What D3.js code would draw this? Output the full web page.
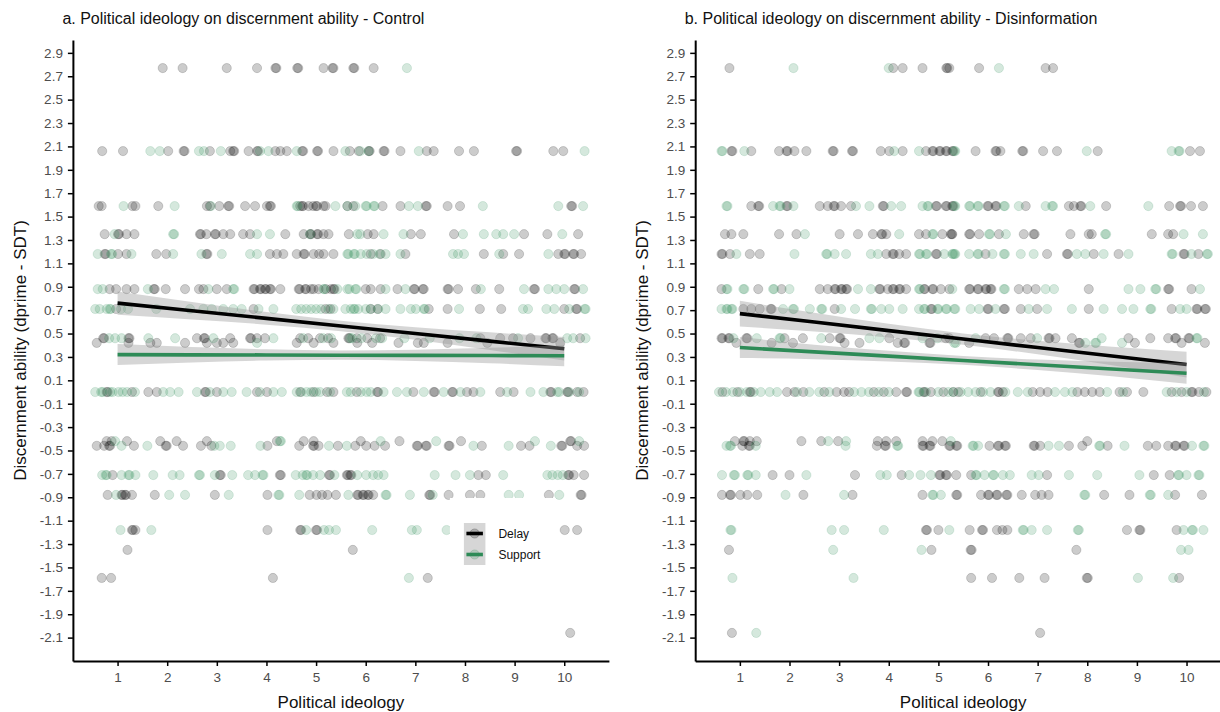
<!DOCTYPE html>
<html>
<head>
<meta charset="utf-8">
<script src="https://cdn.jsdelivr.net/npm/d3@7"></script>
<style>
  body { margin: 0; background: #fff; }
  svg { display: block; font-family: "Liberation Sans", Arial, sans-serif; }
</style>
</head>
<body>
<svg id="chart" width="1220" height="712"></svg>
<script>
// Tick labels and titles
const yTickValues = [2.9, 2.7, 2.5, 2.3, 2.1, 1.9, 1.7, 1.5, 1.3, 1.1, 0.9, 0.7, 0.5, 0.3, 0.1,
  -0.1, -0.3, -0.5, -0.7, -0.9, -1.1, -1.3, -1.5, -1.7, -1.9, -2.1];
const xTickValues = [1, 2, 3, 4, 5, 6, 7, 8, 9, 10];
const panelTitles = [
  'a. Political ideology on discernment ability - Control',
  'b. Political ideology on discernment ability - Disinformation'
];
const groupNames = ['Delay', 'Support'];

// Jittered points: [dprime, [political ideology values]]
const controlDelay = [
  [2.77, [1.91, 2.31, 3.20, 3.81, 4.18, 4.20, 4.62, 4.64, 5.15, 5.33, 5.35, 5.75, 5.77, 6.16]],
  [2.06, [0.69, 1.11, 2.02, 2.33, 2.35, 2.86, 3.27, 3.33, 3.35, 3.64, 3.81, 3.83, 4.18, 4.28, 4.41, 4.72, 4.74, 5.02, 5.04, 5.35, 5.68, 5.86, 6.06, 6.08, 6.36, 6.38, 6.70, 7.23, 7.37, 7.88, 8.18, 9.03, 9.05, 9.78, 9.98]],
  [1.59, [0.62, 0.68, 1.30, 1.36, 1.82, 2.80, 2.86, 3.05, 3.23, 3.25, 3.57, 3.77, 4.01, 4.07, 4.09, 4.68, 4.72, 4.74, 4.85, 4.94, 5.00, 5.02, 5.15, 5.19, 5.63, 5.75, 6.34, 6.70, 7.21, 7.23, 7.65, 7.90, 10.14, 10.16]],
  [1.35, [0.74, 1.01, 1.03, 1.18, 1.34, 2.66, 2.68, 2.79, 2.96, 2.98, 3.13, 3.27, 3.53, 3.67, 4.38, 4.75, 4.88, 4.90, 5.02, 5.04, 5.15, 5.25, 5.66, 6.04, 6.16, 6.91, 7.11, 7.78, 9.19, 9.66, 10.28]],
  [1.18, [0.74, 0.76, 1.01, 1.18, 1.78, 1.98, 2.79, 2.81, 4.07, 4.21, 4.34, 4.61, 4.75, 4.77, 4.95, 5.06, 5.15, 5.35, 6.10, 6.30, 6.80, 8.38, 8.77, 9.09, 9.88, 10.00, 10.02, 10.18, 10.20, 10.34]],
  [0.88, [0.84, 0.97, 1.18, 1.34, 1.73, 1.75, 1.97, 2.36, 2.64, 2.73, 3.00, 3.20, 3.74, 3.76, 3.87, 3.89, 3.97, 3.99, 4.07, 4.09, 4.28, 4.65, 4.67, 4.78, 4.80, 4.90, 4.95, 5.05, 5.20, 5.30, 5.35, 5.37, 6.00, 6.10, 6.30, 6.64, 6.97, 6.99, 7.15, 7.17, 7.65, 7.67, 7.86, 8.22, 8.69, 9.39, 9.41, 10.20, 10.22]],
  [0.71, [0.97, 3.74, 5.19, 5.29, 6.10, 6.24, 7.27, 7.65, 8.30, 8.73, 10.00, 10.24, 10.26]],
  [0.46, [0.71, 0.73, 1.22, 1.24, 2.60, 2.74, 2.76, 3.27, 3.67, 3.69, 3.81, 3.97, 4.68, 4.84, 5.08, 5.24, 5.65, 5.67, 5.82, 6.03, 6.29, 8.31, 8.71, 8.97, 9.32, 9.62, 9.64, 9.76, 9.78, 10.32]],
  [0.42, [0.58, 1.22, 1.66, 1.79, 2.36, 2.80, 3.00, 3.13, 3.33, 4.61, 4.95, 5.35, 5.83, 6.13, 6.66, 7.05, 7.17, 7.65, 8.45, 9.92]],
  [0, [0.78, 0.80, 1.29, 1.62, 1.79, 2.76, 2.78, 3.00, 3.81, 4.01, 4.68, 4.95, 5.22, 5.35, 5.82, 6.23, 6.25, 6.96, 7.37, 7.39, 7.74, 7.76, 8.04, 8.17, 8.71, 8.98, 9.72, 9.74, 10.06, 10.08, 10.26, 10.39]],
  [-0.42, [0.78, 0.88, 1.19, 1.86, 2.19, 2.80, 4.21, 4.75, 4.95, 5.90, 6.68, 7.92, 10.12, 10.14]],
  [-0.46, [0.58, 0.73, 0.83, 0.85, 1.33, 1.97, 1.99, 2.32, 2.68, 2.89, 4.02, 4.66, 4.94, 4.96, 5.05, 5.44, 5.79, 6.01, 6.18, 6.39, 7.03, 7.05, 7.21, 7.23, 7.67, 7.69, 8.34, 9.13, 9.30, 9.94, 9.96, 10.26, 10.40]],
  [-0.71, [0.90, 3.06, 3.08, 4.27, 4.29, 5.26, 5.28, 5.62, 5.64, 5.69, 5.71, 8.27, 8.42, 10.08, 10.10, 10.19, 10.40]],
  [-0.88, [0.80, 1.08, 1.10, 1.15, 1.17, 1.29, 1.75, 2.96, 4.02, 4.87, 5.01, 5.12, 5.23, 5.40, 5.83, 5.85, 5.94, 5.96, 6.04, 6.06, 6.15, 7.28, 7.30, 7.67, 8.10, 8.31, 9.69, 10.33, 10.35]],
  [-1.18, [1.29, 1.31, 1.36, 4.02, 4.68, 4.70, 5.00, 5.02, 10.01, 10.26]],
  [-1.35, [1.20, 5.74]],
  [-1.59, [0.68, 0.87, 4.13, 7.25]],
  [-2.06, [10.12]]
];

const controlSupport = [
  [2.77, [6.83]],
  [2.06, [1.66, 1.85, 2.64, 2.74, 3.08, 3.87, 4.04, 4.61, 5.59, 5.89, 6.06, 7.07, 10.41]],
  [1.59, [1.12, 2.15, 2.88, 4.61, 4.63, 5.39, 5.63, 5.79, 6.00, 6.02, 6.16, 6.18, 6.87, 7.05, 8.36, 9.88, 10.38]],
  [1.35, [0.94, 2.12, 2.14, 3.81, 4.07, 4.88, 5.83, 5.89, 6.36, 6.76, 7.96, 8.38, 8.63, 8.77, 8.99, 9.96]],
  [1.18, [0.60, 0.87, 0.89, 1.28, 2.12, 2.69, 3.10, 3.67, 3.81, 5.63, 5.65, 5.76, 5.78, 5.90, 6.02, 6.15, 6.28, 6.40, 6.70, 7.76, 7.86, 7.98, 8.69, 9.68]],
  [0.88, [0.60, 0.70, 1.61, 2.83, 3.33, 3.35, 5.15, 5.17, 5.43, 5.63, 5.67, 5.79, 5.81, 6.40, 6.80, 8.32, 9.19, 9.68, 9.84, 10.00, 10.38]],
  [0.71, [0.55, 0.64, 0.78, 0.84, 0.86, 1.07, 1.21, 1.78, 2.46, 2.73, 2.90, 3.13, 3.33, 3.50, 3.84, 4.14, 4.60, 4.70, 4.80, 4.90, 5.00, 5.10, 5.25, 5.35, 5.59, 5.70, 5.76, 5.78, 5.85, 6.00, 6.10, 6.25, 6.40, 6.70, 6.91, 7.01, 7.17, 7.19, 7.88, 9.17, 9.27, 9.64, 9.80, 10.10, 10.41, 10.43]],
  [0.46, [0.83, 0.95, 1.08, 1.62, 2.16, 2.93, 4.14, 4.74, 5.14, 5.30, 5.69, 5.73, 5.91, 6.21, 6.33, 6.78, 7.29, 7.89, 8.23, 9.07, 10.06, 10.18, 10.43]],
  [0.42, [3.81]],
  [0, [0.55, 0.67, 0.70, 0.85, 0.90, 1.02, 1.10, 1.19, 1.35, 1.92, 2.06, 2.23, 2.60, 2.86, 3.13, 3.30, 3.60, 3.87, 4.14, 4.31, 4.61, 4.70, 4.81, 4.90, 5.00, 5.08, 5.28, 5.62, 5.70, 5.90, 6.02, 6.10, 6.36, 6.63, 6.83, 7.17, 7.57, 7.91, 8.31, 8.85, 9.32, 9.58, 9.86, 9.90, 10.10, 10.30]],
  [-0.42, [0.95, 4.27, 4.29, 6.30, 7.42, 9.41, 10.30]],
  [-0.46, [1.08, 1.60, 2.95, 3.06, 3.28, 3.88, 5.26, 5.62, 8.17, 8.88, 9.73]],
  [-0.71, [0.69, 0.76, 0.78, 1.08, 1.22, 1.24, 1.36, 1.72, 2.11, 2.25, 2.64, 2.66, 2.96, 3.31, 3.63, 3.77, 3.92, 3.94, 4.59, 4.73, 4.80, 4.82, 4.94, 5.08, 5.37, 5.83, 6.01, 6.15, 6.25, 6.36, 7.39, 7.81, 8.10, 8.77, 9.66, 9.76, 9.87, 9.97]],
  [-0.88, [0.97, 2.04, 2.36, 3.24, 4.24, 4.26, 4.66, 5.65, 6.40, 6.42, 6.89, 7.35, 8.88, 9.09, 9.90]],
  [-1.18, [1.06, 1.68, 4.80, 5.16, 5.26, 5.40, 6.13, 6.93, 7.03, 7.63]],
  [-1.59, [6.87]]
];

const disinfoDelay = [
  [2.77, [0.79, 4.09, 4.28, 4.68, 5.16, 5.18, 5.22, 5.82, 7.16, 7.31]],
  [2.06, [0.83, 0.85, 1.23, 1.79, 1.94, 1.96, 2.10, 2.34, 2.87, 2.89, 3.26, 3.28, 3.84, 4.01, 4.28, 4.75, 4.88, 4.90, 5.02, 5.04, 5.15, 5.17, 5.28, 5.30, 5.75, 6.15, 6.17, 6.25, 6.69, 6.71, 7.11, 7.39, 8.21, 10.07, 10.27]],
  [1.59, [1.23, 1.37, 1.39, 1.94, 1.96, 2.61, 2.77, 2.89, 2.91, 3.04, 3.24, 3.88, 3.90, 4.95, 4.97, 5.15, 5.17, 5.28, 5.30, 5.99, 6.01, 6.15, 6.17, 6.76, 7.63, 7.73, 7.86, 7.88, 8.38, 9.65, 9.87, 9.89, 10.09, 10.33]],
  [1.35, [0.70, 0.83, 1.07, 1.79, 2.14, 3.01, 3.38, 3.68, 3.85, 3.87, 3.95, 4.61, 4.75, 5.08, 5.25, 5.27, 5.28, 5.62, 5.64, 5.82, 6.22, 6.72, 6.92, 6.94, 7.66, 8.03, 8.09, 9.30, 9.63, 9.73]],
  [1.18, [0.63, 0.65, 0.80, 1.20, 1.40, 3.95, 4.08, 4.10, 4.21, 4.35, 4.95, 4.97, 5.95, 7.19, 7.59, 7.61, 8.13, 8.63, 9.94, 9.96, 10.24]],
  [0.88, [0.63, 1.37, 1.84, 2.61, 2.77, 2.91, 2.93, 3.04, 3.06, 3.14, 3.16, 3.81, 3.83, 3.98, 4.08, 4.10, 4.21, 4.23, 4.35, 4.71, 4.73, 4.88, 4.90, 5.05, 5.22, 5.62, 5.64, 5.79, 5.81, 5.95, 5.97, 6.05, 6.07, 6.62, 6.79, 6.96, 8.03, 9.63, 9.65, 10.10]],
  [0.71, [1.07, 1.23, 1.40, 1.62, 1.64, 2.91, 4.85, 4.87, 5.99, 6.01, 6.32, 6.34, 6.66, 6.99, 8.03, 9.70, 10.20, 10.22, 10.37, 10.39]],
  [0.46, [0.63, 0.65, 0.77, 0.79, 1.13, 1.15, 1.90, 2.27, 2.81, 3.01, 3.03, 4.01, 5.15, 5.22, 5.95, 6.12, 6.39, 6.41, 6.66, 6.86, 7.22, 7.24, 7.36, 7.69, 8.83, 9.27, 9.63, 9.77, 9.79, 10.04, 10.06]],
  [0.42, [0.93, 1.64, 2.07, 3.11, 3.41, 4.18, 4.31, 4.33, 4.82, 4.84, 5.62, 7.83, 7.85, 8.96, 9.90, 10.37]],
  [0, [0.65, 0.95, 1.20, 1.22, 1.95, 2.10, 2.28, 2.70, 2.95, 3.10, 3.20, 3.70, 3.90, 4.15, 4.35, 4.37, 4.70, 4.72, 4.85, 5.10, 5.30, 5.40, 5.85, 6.20, 6.22, 6.30, 6.90, 7.05, 7.20, 7.80, 7.95, 8.10, 8.25, 8.65, 8.80, 9.13, 9.70, 9.90, 10.10, 10.12, 10.25, 10.40]],
  [-0.42, [0.90, 1.07, 1.09, 1.20, 1.34, 2.24, 2.64, 2.98, 3.78, 3.95, 4.15, 4.68, 4.88, 5.08, 8.00]],
  [-0.46, [1.05, 1.18, 1.20, 3.76, 3.92, 3.94, 4.68, 4.70, 4.82, 4.84, 5.22, 5.24, 5.36, 5.38, 6.03, 6.20, 6.22, 6.34, 6.36, 6.92, 6.94, 7.05, 7.63, 7.90, 8.41, 9.22, 9.39, 9.63, 9.77, 9.79, 9.94, 9.96]],
  [-0.71, [1.66, 2.00, 3.32, 4.26, 5.02, 5.04, 5.15, 5.17, 5.36, 5.66, 7.19, 9.34, 9.66]],
  [-0.88, [0.64, 0.80, 0.82, 1.01, 1.15, 1.35, 2.28, 3.27, 4.68, 5.36, 5.38, 5.86, 6.00, 6.02, 6.17, 6.19, 6.37, 6.39, 6.68, 6.95, 7.08, 7.22, 8.34, 8.85, 9.77, 10.31]],
  [-1.18, [4.75, 4.77, 5.00, 5.63, 5.88, 5.90, 6.18, 6.29, 6.39, 8.80, 9.05, 9.07, 9.80]],
  [-1.35, [0.78, 4.86, 5.65, 5.67, 7.78]],
  [-1.59, [5.66, 6.08, 6.63, 7.14, 7.99, 8.01, 9.85]],
  [-2.06, [0.84, 7.05]]
];

const disinfoSupport = [
  [2.77, [2.08, 4.00, 6.22]],
  [2.06, [0.63, 0.65, 1.09, 4.11, 4.61, 5.32, 5.34, 7.99, 9.70, 9.84, 9.86]],
  [1.59, [0.73, 0.75, 1.67, 1.80, 1.82, 2.08, 3.34, 3.61, 4.05, 4.25, 4.68, 4.78, 4.80, 5.32, 5.34, 5.62, 5.64, 5.79, 5.81, 6.32, 6.34, 6.62, 7.16, 7.29, 7.31, 8.06, 9.23]],
  [1.35, [2.31, 4.21, 4.88, 4.90, 6.02, 6.04, 6.36, 8.36, 8.38, 9.94, 10.33]],
  [1.18, [0.93, 2.10, 2.74, 2.76, 2.91, 3.14, 3.64, 3.78, 4.61, 4.63, 4.75, 4.77, 5.12, 5.28, 5.30, 5.32, 5.34, 5.62, 5.79, 5.81, 6.09, 6.32, 6.34, 6.66, 6.92, 7.79, 7.96, 8.33, 8.83, 9.70, 9.72, 10.10, 10.41, 10.43]],
  [0.88, [0.73, 0.75, 1.07, 1.09, 1.67, 1.69, 2.00, 3.38, 3.64, 4.61, 4.63, 5.28, 6.32, 6.34, 7.16, 7.33, 8.83, 9.07, 9.37, 9.39, 10.27]],
  [0.71, [0.63, 0.73, 0.75, 0.83, 0.85, 1.87, 2.07, 2.09, 2.41, 2.64, 2.66, 3.04, 3.32, 3.64, 3.66, 3.85, 4.01, 4.28, 4.61, 4.71, 4.73, 4.98, 5.00, 5.15, 5.17, 5.32, 5.34, 5.65, 5.82, 6.15, 6.82, 7.19, 7.69, 8.33, 8.70, 8.93, 9.27, 9.29, 9.87, 10.00]],
  [0.46, [0.87, 1.34, 1.80, 1.82, 2.64, 3.61, 3.81, 4.68, 4.98, 5.75, 6.99, 8.29, 10.20, 10.22]],
  [0.42, [5.32, 5.35, 7.96, 8.16, 8.18, 8.70]],
  [0, [0.58, 0.72, 0.86, 1.00, 1.14, 1.28, 1.42, 1.60, 1.75, 2.15, 2.40, 2.60, 2.80, 3.30, 3.45, 3.60, 3.80, 4.00, 4.60, 4.62, 4.75, 5.00, 5.20, 5.30, 5.45, 5.60, 5.75, 5.90, 6.05, 6.35, 6.60, 6.80, 7.35, 7.55, 7.70, 8.40, 8.72, 9.60, 9.80, 10.00, 10.35]],
  [-0.42, [2.78, 3.14, 5.25]],
  [-0.46, [0.73, 0.80, 0.82, 1.32, 3.13, 4.17, 4.19, 5.69, 5.71, 5.80, 7.22, 7.43, 8.24, 8.26, 8.75, 10.11, 10.34, 10.36]],
  [-0.71, [0.64, 0.88, 0.90, 1.15, 1.17, 1.32, 2.34, 3.83, 3.96, 4.41, 4.64, 4.85, 5.75, 5.77, 5.93, 6.10, 6.12, 6.30, 6.44, 6.88, 7.02, 7.63, 8.20, 9.05, 9.83, 9.85, 10.00, 10.24, 10.26]],
  [-0.88, [1.92, 3.10, 4.88, 4.90, 5.05, 7.94, 7.96, 9.26, 9.28, 9.63]],
  [-1.18, [0.81, 0.83, 2.85, 3.10, 3.90, 5.22, 6.70, 6.72, 6.88, 7.19, 7.81, 7.83, 9.94, 10.11, 10.13, 10.34]],
  [-1.35, [2.88, 4.66, 9.89, 10.04]],
  [-1.59, [0.85, 3.29, 9.02, 9.73]],
  [-2.06, [1.33]]
];

// Linear fits with 95% bands, read at these ideology values
const fitX = [1, 2.5, 4, 5.5, 7, 8.5, 10];
const controlDelayFit = [0.76, 0.695, 0.63, 0.565, 0.50, 0.435, 0.37];
const controlDelayLower = [0.66, 0.62, 0.576, 0.52, 0.446, 0.36, 0.27];
const controlDelayUpper = [0.86, 0.77, 0.684, 0.61, 0.554, 0.51, 0.47];
const controlSupportFit = [0.32, 0.318, 0.317, 0.315, 0.313, 0.312, 0.31];
const controlSupportLower = [0.23, 0.252, 0.269, 0.275, 0.265, 0.246, 0.22];
const controlSupportUpper = [0.41, 0.384, 0.365, 0.355, 0.361, 0.378, 0.40];
const disinfoDelayFit = [0.67, 0.598, 0.525, 0.453, 0.38, 0.308, 0.235];
const disinfoDelayLower = [0.56, 0.518, 0.467, 0.405, 0.322, 0.228, 0.125];
const disinfoDelayUpper = [0.78, 0.678, 0.583, 0.501, 0.438, 0.388, 0.345];
const disinfoSupportFit = [0.38, 0.343, 0.307, 0.27, 0.233, 0.197, 0.16];
const disinfoSupportLower = [0.29, 0.281, 0.262, 0.233, 0.188, 0.135, 0.07];
const disinfoSupportUpper = [0.47, 0.405, 0.352, 0.307, 0.278, 0.259, 0.25];

// Layout
const margin = { top: 40 };
const panelWidth = 536;
const panelHeight = 621;
const colors = { Delay: '#000000', Support: '#2e8b57' };

const svg = d3.select('#chart');

// Shared scales (same for both panels)
const xScale = d3.scaleLinear().domain([0.1, 10.9]).range([0, panelWidth]);
const yScale = d3.scaleLinear().domain([-2.3, 3.01]).range([panelHeight, 0]);

const panels = [
  {
    left: 72.9, title: panelTitles[0], legend: true,
    groups: [
      { name: 'Delay', points: controlDelay, fit: controlDelayFit, lower: controlDelayLower, upper: controlDelayUpper },
      { name: 'Support', points: controlSupport, fit: controlSupportFit, lower: controlSupportLower, upper: controlSupportUpper }
    ]
  },
  {
    left: 695.2, title: panelTitles[1], legend: false,
    groups: [
      { name: 'Delay', points: disinfoDelay, fit: disinfoDelayFit, lower: disinfoDelayLower, upper: disinfoDelayUpper },
      { name: 'Support', points: disinfoSupport, fit: disinfoSupportFit, lower: disinfoSupportLower, upper: disinfoSupportUpper }
    ]
  }
];

const band = d3.area()
  .x(d => xScale(d.x))
  .y0(d => yScale(d.lo))
  .y1(d => yScale(d.hi))
  .curve(d3.curveMonotoneX);

const line = d3.line()
  .x(d => xScale(d.x))
  .y(d => yScale(d.y));

panels.forEach(p => {
  const g = svg.append('g')
    .attr('transform', `translate(${p.left},${margin.top})`);

  // Jittered points, Delay then Support
  p.groups.forEach(grp => {
    const pts = grp.points.flatMap(([y, xs]) => xs.map(x => ({ x, y })));
    g.append('g')
      .selectAll('circle')
      .data(pts)
      .join('circle')
      .attr('cx', d => xScale(d.x))
      .attr('cy', d => yScale(d.y))
      .attr('r', 4.6)
      .attr('fill', colors[grp.name])
      .attr('fill-opacity', 0.2)
      .attr('stroke', colors[grp.name])
      .attr('stroke-opacity', 0.2)
      .attr('stroke-width', 0.8);
  });

  // Regression bands and lines
  p.groups.forEach(grp => {
    const rows = fitX.map((x, i) => ({ x, y: grp.fit[i], lo: grp.lower[i], hi: grp.upper[i] }));
    g.append('path')
      .datum(rows)
      .attr('fill', '#999999')
      .attr('fill-opacity', 0.4)
      .attr('d', band);
    g.append('path')
      .datum(rows)
      .attr('fill', 'none')
      .attr('stroke', colors[grp.name])
      .attr('stroke-width', 3.6)
      .attr('d', line);
  });

  // Y axis
  g.append('g')
    .call(d3.axisLeft(yScale)
      .tickValues(yTickValues)
      .tickFormat(d => d.toFixed(1))
      .tickSize(5)
      .tickSizeOuter(0)
      .tickPadding(5))
    .attr('font-family', null)
    .attr('font-size', 13.5)
    .call(a => a.select('.domain').attr('stroke-width', 2))
    .call(a => a.selectAll('.tick line').attr('stroke-width', 1.5))
    .call(a => a.selectAll('.tick text').attr('fill', '#4d4d4d'));

  // X axis
  g.append('g')
    .attr('transform', `translate(0,${panelHeight})`)
    .call(d3.axisBottom(xScale)
      .tickValues(xTickValues)
      .tickSize(5)
      .tickSizeOuter(0)
      .tickPadding(6))
    .attr('font-family', null)
    .attr('font-size', 13.5)
    .call(a => a.select('.domain').attr('stroke-width', 2))
    .call(a => a.selectAll('.tick line').attr('stroke-width', 1.5))
    .call(a => a.selectAll('.tick text').attr('fill', '#4d4d4d'));

  // Titles
  g.append('text')
    .attr('x', -10.5)
    .attr('y', -16)
    .attr('font-size', 16)
    .attr('fill', '#111')
    .text(p.title);

  g.append('text')
    .attr('x', panelWidth / 2)
    .attr('y', panelHeight + 47)
    .attr('text-anchor', 'middle')
    .attr('font-size', 17)
    .attr('fill', '#111')
    .text('Political ideology');

  g.append('text')
    .attr('transform', `translate(-47,${panelHeight / 2}) rotate(-90)`)
    .attr('text-anchor', 'middle')
    .attr('font-size', 17)
    .attr('fill', '#111')
    .text('Discernment ability (dprime - SDT)');

  // Legend inside panel a
  if (p.legend) {
    const lg = g.append('g').attr('transform', 'translate(377,458)');
    lg.append('rect')
      .attr('width', 106).attr('height', 75)
      .attr('fill', '#fff');
    groupNames.forEach((name, i) => {
      const k = lg.append('g').attr('transform', `translate(14,${25 + i * 21})`);
      k.append('rect')
        .attr('width', 21.5).attr('height', 21)
        .attr('fill', '#999999').attr('fill-opacity', 0.4);
      k.append('circle')
        .attr('cx', 10.75).attr('cy', 10.5).attr('r', 4.6)
        .attr('fill', colors[name]).attr('fill-opacity', 0.2)
        .attr('stroke', colors[name]).attr('stroke-opacity', 0.2);
      k.append('line')
        .attr('x1', 2.5).attr('x2', 19)
        .attr('y1', 10.5).attr('y2', 10.5)
        .attr('stroke', colors[name]).attr('stroke-width', 3.6);
      k.append('text')
        .attr('x', 34.5).attr('y', 15)
        .attr('font-size', 12)
        .attr('fill', '#111')
        .text(name);
    });
  }
});
</script>
</body>
</html>
